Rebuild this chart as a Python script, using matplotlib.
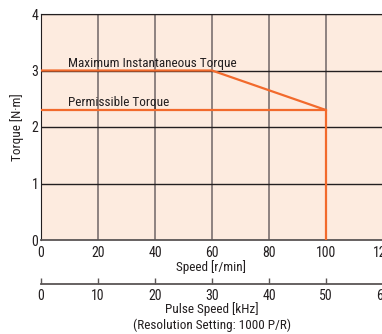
import matplotlib
matplotlib.use("Agg")
import matplotlib.pyplot as plt

# torque curve data
speed_max = [0, 60, 100, 100]
torque_max = [3.0, 3.0, 2.3, 0.0]
speed_perm = [0, 100]
torque_perm = [2.3, 2.3]

speed_ticks = [0, 20, 40, 60, 80, 100, 120]
torque_ticks = [0, 1, 2, 3, 4]
pulse_ticks = [0, 10, 20, 30, 40, 50, 60]

plt.rcParams['font.family'] = ['Roboto Condensed', 'DejaVu Sans']
plt.rcParams['font.size'] = 10
plt.rcParams['text.color'] = '#231f20'
plt.rcParams['xtick.color'] = '#231f20'
plt.rcParams['ytick.color'] = '#231f20'

W, H = 382, 334
fig = plt.figure(figsize=(W / 100, H / 100), dpi=100)
ax = fig.add_axes([41 / W, 94 / H, 342 / W, 226 / H])
ax.set_facecolor('#fdebdf')

ax.set_xlim(0, 120)
ax.set_ylim(0, 4)
ax.set_xticks(speed_ticks)
ax.set_yticks(torque_ticks)

for x in speed_ticks[1:]:
    ax.axvline(x, color='#857a78', lw=1.3, zorder=1)
for y in torque_ticks[1:]:
    ax.axhline(y, color='#231f20', lw=1.0, zorder=1)

ax.spines['right'].set_visible(False)
ax.spines['top'].set_color('#231f20')
ax.spines['left'].set_color('#231f20')
ax.spines['bottom'].set_color('#5a5555')
ax.spines['bottom'].set_linewidth(1.3)
ax.tick_params(length=0)
ax.tick_params(axis='x', pad=4)
ax.tick_params(axis='y', pad=2)

orange = '#f26a2c'
ax.plot(speed_max, torque_max, color=orange, lw=1.6, zorder=3)
ax.plot(speed_perm, torque_perm, color=orange, lw=1.6, zorder=3)

ax.text(9.5, 3.07, 'Maximum Instantaneous Torque', fontsize=9.5)
ax.text(9.5, 2.37, 'Permissible Torque', fontsize=9.5)

fig.text(211 / W, 1 - 267 / H, 'Speed [r/min]', ha='center', va='center', fontsize=9.5)
fig.text(17 / W, 1 - 127 / H, 'Torque [N·m]', ha='center', va='center', rotation=90, fontsize=9.5)

# second scale: pulse speed
ax2 = fig.add_axes([41 / W, (H - 284) / H, 342 / W, 0.0001])
ax2.set_xlim(0, 60)
ax2.set_xticks(pulse_ticks)
ax2.set_yticks([])
for s in ['top', 'left', 'right']:
    ax2.spines[s].set_visible(False)
ax2.spines['bottom'].set_color('#5a5555')
ax2.spines['bottom'].set_linewidth(1.3)
ax2.tick_params(axis='x', direction='in', length=4, width=1.0, color='#5a5555', pad=3.5)

fig.text(212 / W, 1 - 309 / H, 'Pulse Speed [kHz]', ha='center', va='center', fontsize=9.5)
fig.text(212 / W, 1 - 325 / H, '(Resolution Setting: 1000 P/R)', ha='center', va='center', fontsize=9.5)

fig.savefig('out.png', dpi=100)
